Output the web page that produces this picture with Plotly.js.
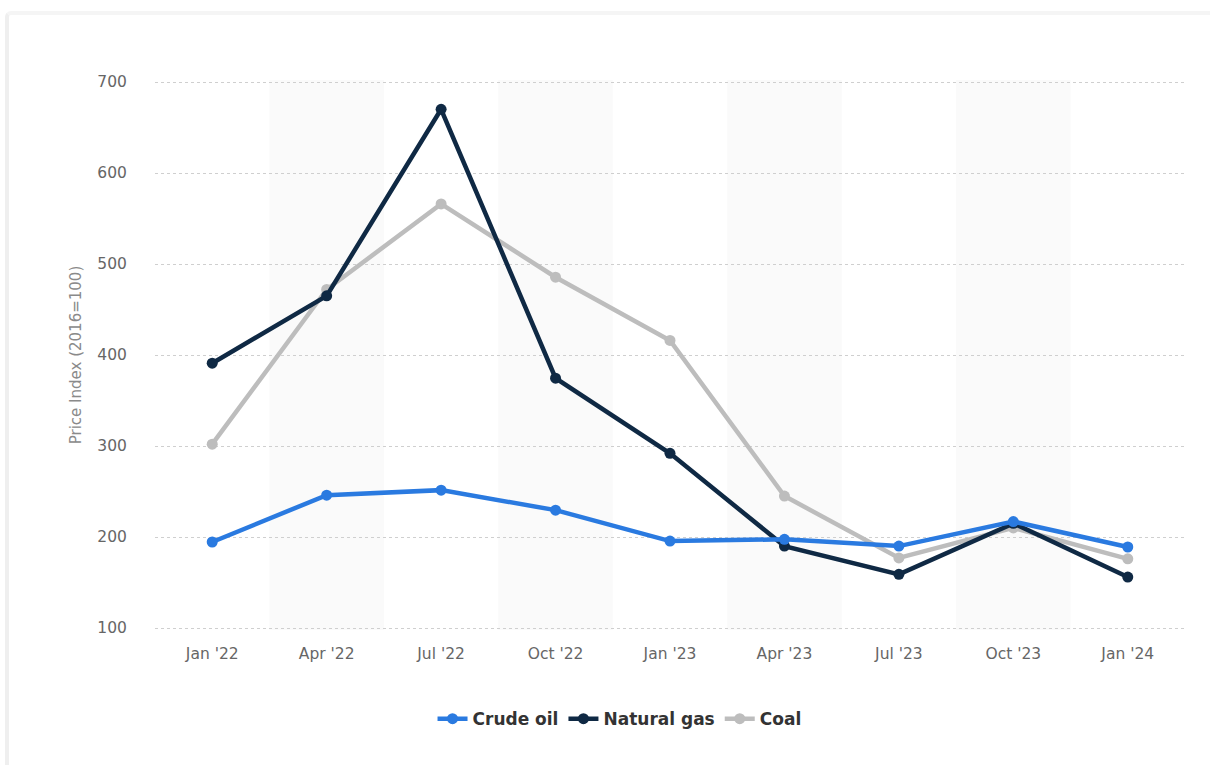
<!DOCTYPE html>
<html>
<head>
<meta charset="utf-8">
<script src="https://cdn.plot.ly/plotly-3.0.1.min.js"></script>
<style>
html,body{margin:0;padding:0;background:#fff;overflow:hidden;}
#card{position:absolute;left:5px;top:11px;width:1300px;height:900px;background:#fff;
  border-left:4px solid #efefef;border-top:4px solid #f5f5f5;border-top-left-radius:6px;}
#chart{position:absolute;left:0;top:0;width:1210px;height:765px;}
</style>
</head>
<body>
<div id="card"></div>
<div id="chart"></div>
<script>
const categories = ["Jan '22","Apr '22","Jul '22","Oct '22","Jan '23","Apr '23","Jul '23","Oct '23","Jan '24"];
const crudeOil   = [194.5, 246, 251.5, 229.5, 195.5, 197.5, 190, 217, 189];
const naturalGas = [391, 465, 670, 374.5, 292, 190, 159, 215, 156];
const coal       = [302, 472, 566, 485.5, 416, 245, 177, 210, 176];
const yTicks = [100, 200, 300, 400, 500, 600, 700];

const seriesNames = ["Crude oil", "Natural gas", "Coal"];
const seriesData = [crudeOil, naturalGas, coal];
const seriesColors = ["#2a7ae0", "#0f2944", "#bdbdbd"];

const traces = seriesData.map((vals, i) => ({
  type: 'scatter',
  mode: 'lines+markers',
  name: seriesNames[i],
  x: categories,
  y: vals,
  line: {color: seriesColors[i], width: 4.5},
  marker: {color: seriesColors[i], size: 11},
  cliponaxis: false,
  legendrank: i + 1
}));
// draw coal beneath the others, keep legend order via legendrank
const data = [traces[2], traces[1], traces[0]];

const shapes = [];
categories.forEach((c, i) => {
  if (i % 2 === 1) {
    shapes.push({
      type: 'rect', xref: 'x', yref: 'paper', layer: 'below',
      x0: i - 0.5, x1: i + 0.5, y0: 0, y1: 1,
      fillcolor: '#fafafa', line: {width: 0}
    });
  }
});

const fontFam = '"DejaVu Sans", Verdana, sans-serif';

const layout = {
  width: 1210, height: 765,
  paper_bgcolor: 'rgba(0,0,0,0)',
  plot_bgcolor: 'rgba(0,0,0,0)',
  margin: {l: 155, r: 25, t: 80, b: 135},
  font: {family: fontFam, color: '#666'},
  xaxis: {
    type: 'category',
    range: [-0.5, 8.5],
    showgrid: false, zeroline: false, showline: false,
    ticks: 'outside', ticklen: 9, tickcolor: 'rgba(0,0,0,0)',
    tickfont: {size: 15.5, color: '#666', family: fontFam}
  },
  yaxis: {
    range: [97.8, 702.2],
    tickvals: yTicks,
    ticktext: yTicks.map(String),
    showgrid: true, gridcolor: '#cfcfcf', griddash: 'dot', gridwidth: 1,
    zeroline: false, showline: false,
    ticks: 'outside', ticklen: 24, tickcolor: 'rgba(0,0,0,0)',
    tickfont: {size: 15.5, color: '#666', family: fontFam},
    title: {text: 'Price Index (2016=100)', font: {size: 15, color: '#8a8a8a', family: fontFam}, standoff: 12}
  },
  legend: {
    orientation: 'h', x: 0.451, xanchor: 'center', xref: 'paper',
    y: -0.162, yanchor: 'middle',
    font: {size: 17, color: '#333', family: fontFam, weight: 'bold'},
    traceorder: 'normal', itemwidth: 30
  },
  shapes: shapes,
  showlegend: true
};

Plotly.newPlot('chart', data, layout, {displayModeBar: false, staticPlot: true});
</script>
</body>
</html>
